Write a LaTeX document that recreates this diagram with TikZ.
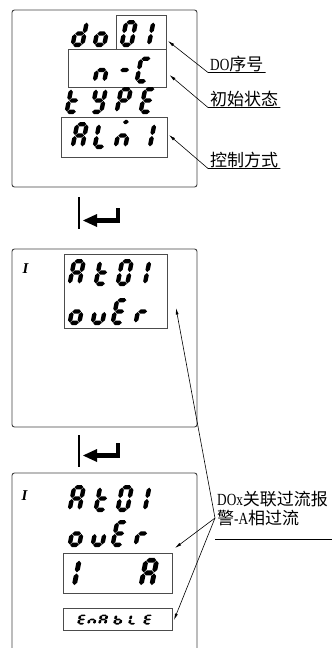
\documentclass[tikz,border=0pt]{standalone}
\usepackage{fontspec}
\setmainfont{Liberation Serif}
\newfontfamily\cjk{Noto Sans CJK SC}
\newfontfamily\latn[FakeStretch=0.78]{Liberation Serif}
\usetikzlibrary{arrows.meta}
% seven-segment pieces (local units, y up, cell 14 x 27), filled hexagons
\newcommand\hseg[3]{\fill (#1,#3) -- (#1+2.2,#3+2.2) -- (#2-2.2,#3+2.2) -- (#2,#3) -- (#2-2.2,#3-2.2) -- (#1+2.2,#3-2.2) -- cycle;}
\newcommand\vseg[3]{\fill (#1,#2) -- (#1+2.2,#2+2.2) -- (#1+2.2,#3-2.2) -- (#1,#3) -- (#1-2.2,#3-2.2) -- (#1-2.2,#2+2.2) -- cycle;}
\newcommand\SgA{\hseg{2.6}{11.4}{24.8}}
\newcommand\SgB{\vseg{11.8}{14.0}{24.4}}
\newcommand\SgC{\vseg{11.8}{2.6}{13.0}}
\newcommand\SgD{\hseg{2.6}{11.4}{2.2}}
\newcommand\SgE{\vseg{2.2}{2.6}{13.0}}
\newcommand\SgF{\vseg{2.2}{14.0}{24.4}}
\newcommand\SgG{\hseg{2.6}{11.4}{13.5}}
\newcommand\SgM{\hseg{4.6}{10.4}{27.0}}
\newcommand\chA{\SgA\SgB\SgC\SgE\SgF\SgG}
\newcommand\chd{\SgB\SgC\SgD\SgE\SgG}
\newcommand\cho{\SgC\SgD\SgE\SgG}
\newcommand\chZ{\SgA\SgB\SgC\SgD\SgE\SgF}
\newcommand\chI{\SgB\SgC}
\newcommand\chn{\SgC\SgE\SgG}
\newcommand\chdash{\SgG}
\newcommand\chC{\SgA\SgD\SgE\SgF}
\newcommand\cht{\SgD\SgE\SgF\SgG}
\newcommand\chY{\SgB\SgC\SgD\SgF\SgG}
\newcommand\chP{\SgA\SgB\SgE\SgF\SgG}
\newcommand\chE{\SgA\SgD\SgE\SgF\SgG}
\newcommand\chL{\SgD\SgE\SgF}
\newcommand\chm{\SgM\SgC\SgE\SgG}
\newcommand\chu{\SgC\SgD\SgE}
\newcommand\chrr{\SgE\SgG}
\newcommand\chb{\SgC\SgD\SgE\SgF\SgG}
% place one glyph: [extra opts]{x}{baseline y}{glyph}
\newcommand\segglyph[4][]{\begin{scope}[shift={(#2,#3)},xslant=0.2,yscale=-1,#1]#4\end{scope}}
% enter key symbol: {bar top}{shaft centre}
\newcommand\enterkey[2]{%
  \fill (77.8,#1) rectangle (80.3,#1+32);
  \fill (83,#2) -- (97,#2-6.5) -- (97,#2+6.5) -- cycle;
  \fill (96,#2-2.6) rectangle (120,#2+2.6);
  \fill (115.5,#2-13) rectangle (120,#2+2.6);
}
\tikzset{
  panel/.style={draw=black!75, line width=0.9pt, rounded corners=2.5pt},
  ibox/.style={draw=black!70, line width=0.8pt},
  ptr/.style={-{Latex[length=6.5pt,width=3pt]}, line width=0.6pt},
  lbl/.style={font=\fontsize{17}{19.5}\selectfont, inner xsep=2pt, inner ysep=0.6pt},
  small/.style={xscale=0.6, yscale=0.37},
  ilabel/.style={font=\fontsize{15}{15}\selectfont\bfseries\itshape, anchor=base west, inner sep=0pt}
}
\begin{document}
\begin{tikzpicture}[x=1pt, y=-1pt]
\useasboundingbox (0,0) rectangle (332,648);
% ---------- panel 1 ----------
\draw[panel] (12,10) rectangle (197,187);
\draw[ibox] (116,15) rectangle (166,49);
\draw[ibox] (68,49) rectangle (166,87);
\draw[ibox] (61,117) rectangle (167,157);
\segglyph{70}{47}{\chd}
\segglyph{92}{47}{\cho}
\segglyph{119}{47}{\chZ}
\segglyph{136.6}{47}{\chI}
\segglyph{92}{83.5}{\chn}
\segglyph{115}{83.5}{\chdash}
\segglyph{134}{83.5}{\chC}
\segglyph{64}{114}{\cht}
\segglyph{89}{114}{\chY}
\segglyph{114}{114}{\chP}
\segglyph{138}{114}{\chE}
\segglyph{70}{149}{\chA}
\segglyph{92}{149}{\chL}
\segglyph{113}{149}{\chm}
\segglyph{137.6}{149}{\chI}
% labels panel 1
\node[lbl, anchor=south west] (l1) at (208,72.5) {{\latn DO}{\cjk 序号}};
\node[lbl, anchor=south west] (l2) at (208,107.5) {{\cjk 初始状态}};
\node[lbl, anchor=south west] (l3) at (208,168.5) {{\cjk 控制方式}};
\coordinate (t1) at (168,41);
\coordinate (t2) at (169.5,75);
\coordinate (t3) at (169,135);
\draw[ptr] (l1.south east) -- (l1.south west) -- (t1);
\draw[ptr] (l2.south east) -- (l2.south west) -- (t2);
\draw[ptr] (l3.south east) -- (l3.south west) -- (t3);
% ---------- enter 1 ----------
\enterkey{197}{220.5}
% ---------- panel 2 ----------
\draw[panel] (12,249) rectangle (197,427);
\draw[ibox] (64,254) rectangle (167,328);
\node[ilabel] (i2) at (22.5,273.5) {I};
\segglyph{67}{286}{\chA}
\segglyph{93}{286}{\cht}
\segglyph{115}{286}{\chZ}
\segglyph{132.6}{286}{\chI}
\segglyph{67}{325}{\cho}
\segglyph{90}{325}{\chu}
\segglyph{110}{325}{\chE}
\segglyph{133}{325}{\chrr}
% ---------- enter 2 ----------
\enterkey{435}{455.5}
% ---------- panel 3 ----------
\draw[panel] (12,648) -- (12,473) -- (197,473) -- (197,648);
\node[ilabel] (i3) at (21.5,500) {I};
\segglyph{67}{512}{\chA}
\segglyph{93}{512}{\cht}
\segglyph{115}{512}{\chZ}
\segglyph{132.6}{512}{\chI}
\segglyph{67}{547}{\cho}
\segglyph{90}{547}{\chu}
\segglyph{110}{547}{\chE}
\segglyph{133}{547}{\chrr}
\draw[ibox] (63,553) rectangle (172,593);
\segglyph[scale=1.12]{60.5}{588}{\chI}
\segglyph[scale=1.12]{138}{588}{\chA}
\draw[ibox] (63,608) rectangle (172,630);
\segglyph[small]{77}{624.5}{\chE}
\segglyph[small]{87}{624.5}{\chn}
\segglyph[small]{98}{624.5}{\chA}
\segglyph[small]{113}{624.5}{\chb}
\segglyph[small]{128}{624.5}{\chL}
\segglyph[small]{143}{624.5}{\chE}
% label panel 2/3
\node[lbl, anchor=north west, align=left, inner sep=0pt] (l4) at (217,491)
  {{\latn DOx}{\cjk 关联过流报}\\{\cjk 警}{\latn -A}{\cjk 相过流}};
\coordinate (u1) at (215,539);
\coordinate (u2) at (332,539);
\draw[line width=0.6pt] (u1) -- (u2);
\coordinate (hub) at (215,518);
\coordinate (tA) at (176,308);
\coordinate (tB) at (175,548);
\coordinate (tC) at (174,620);
\draw[ptr] (hub) -- (tA);
\draw[ptr] (hub) -- (tB);
\draw[ptr] (hub) -- (tC);
\end{tikzpicture}
\end{document}
